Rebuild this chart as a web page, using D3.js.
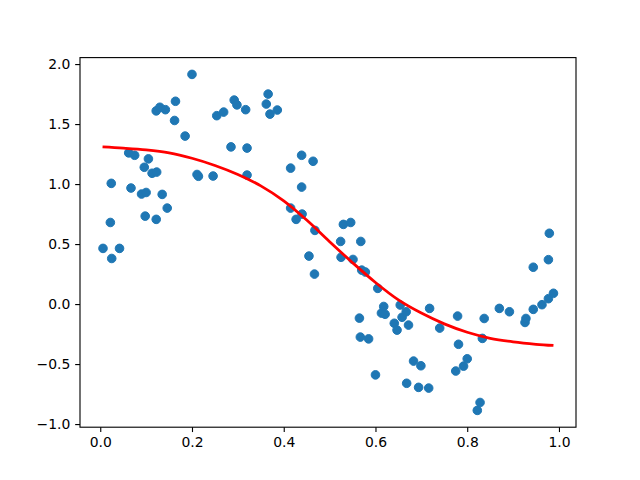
<!DOCTYPE html>
<html>
<head>
<meta charset="utf-8">
<script src="https://cdn.jsdelivr.net/npm/d3@7"></script>
<style>
  body { margin: 0; background: #fff; }
  svg { display: block; }
  .tick text { font-family: "DejaVu Sans", sans-serif; font-size: 13.9px; fill: #000; }
</style>
</head>
<body>
<div id="chart"></div>
<script>
// figure size and matplotlib-like axes box
const w = 640;
const h = 480;
const axLeft = 80, axRight = 576, axTop = 57.6, axBottom = 427.2;

// scatter points
const xs = [0.006, 0.022, 0.024, 0.025, 0.042, 0.062, 0.067, 0.075, 0.09, 0.096,
            0.098, 0.10, 0.105, 0.113, 0.122, 0.123, 0.122, 0.130, 0.135, 0.142,
            0.146, 0.162, 0.164, 0.185, 0.20, 0.211, 0.214, 0.246, 0.254, 0.269,
            0.285, 0.292, 0.298, 0.317, 0.32, 0.32, 0.362, 0.366, 0.37, 0.386,
            0.415, 0.415, 0.427, 0.439, 0.439, 0.44, 0.455, 0.464, 0.468, 0.467,
            0.524, 0.525, 0.53, 0.546, 0.551, 0.568, 0.570, 0.578, 0.565, 0.567,
            0.585, 0.605, 0.60, 0.613, 0.618, 0.621, 0.641, 0.647, 0.654, 0.658,
            0.667, 0.668, 0.672, 0.683, 0.694, 0.699, 0.716, 0.718, 0.74, 0.775,
            0.779, 0.781, 0.792, 0.80, 0.822, 0.828, 0.833, 0.837, 0.87, 0.892,
            0.926, 0.928, 0.944, 0.944, 0.963, 0.977, 0.977, 0.979, 0.988];
const ys = [0.464, 0.68, 1.006, 0.38, 0.464, 1.26, 0.967, 1.24, 0.917, 1.14,
            0.733, 0.93, 1.21, 1.09, 0.706, 1.10, 1.61, 1.64, 0.914, 1.62,
            0.80, 1.53, 1.69, 1.40, 1.914, 1.08, 1.065, 1.067, 1.57, 1.60,
            1.31, 1.70, 1.66, 1.62, 1.30, 1.075, 1.667, 1.75, 1.583, 1.617,
            1.133, 0.80, 0.706, 0.975, 1.24, 0.75, 0.40, 1.19, 0.614, 0.25,
            0.522, 0.39, 0.664, 0.68, 0.372, 0.522, 0.283, 0.267, -0.117, -0.275,
            -0.29, 0.131, -0.59, -0.075, -0.02, -0.085, -0.16, -0.217, -0.008, -0.11,
            -0.064, -0.66, -0.175, -0.475, -0.694, -0.514, -0.70, -0.036, -0.2, -0.558,
            -0.1, -0.335, -0.517, -0.456, -0.886, -0.82, -0.286, -0.12, -0.036, -0.064,
            -0.153, -0.12, -0.044, 0.307, -0.005, 0.045, 0.37, 0.59, 0.09];

// fitted red curve
const fitX = [0.005, 0.05, 0.1, 0.15, 0.2, 0.25, 0.3, 0.35, 0.4, 0.45, 0.5,
              0.55, 0.6, 0.65, 0.7, 0.75, 0.8, 0.85, 0.9, 0.95, 0.988];
const fitY = [1.31, 1.30, 1.285, 1.26, 1.215, 1.155, 1.08, 0.985, 0.86, 0.70, 0.52,
              0.345, 0.18, 0.035, -0.075, -0.165, -0.235, -0.285, -0.315, -0.335, -0.345];

const xTicks = [0.0, 0.2, 0.4, 0.6, 0.8, 1.0];
const yTicks = [-1.0, -0.5, 0.0, 0.5, 1.0, 1.5, 2.0];

const points = xs.map((x, i) => ({x: x, y: ys[i]}));
const fit = fitX.map((x, i) => ({x: x, y: fitY[i]}));

// 5% margins like matplotlib autoscale
const allX = xs.concat(fitX), allY = ys.concat(fitY);
const xMin = d3.min(allX), xMax = d3.max(allX);
const yMin = d3.min(allY), yMax = d3.max(allY);
const xPad = (xMax - xMin) * 0.05, yPad = (yMax - yMin) * 0.05;

const xScale = d3.scaleLinear().domain([xMin - xPad, xMax + xPad]).range([axLeft, axRight]);
const yScale = d3.scaleLinear().domain([yMin - yPad, yMax + yPad]).range([axBottom, axTop]);

const fmt = d => d3.format(".1f")(d).replace("-", "\u2212");

const svg = d3.select("#chart").append("svg")
  .attr("width", w)
  .attr("height", h);

svg.append("rect").attr("width", w).attr("height", h).attr("fill", "#fff");

svg.append("clipPath").attr("id", "clip")
  .append("rect")
  .attr("x", axLeft).attr("y", axTop)
  .attr("width", axRight - axLeft).attr("height", axBottom - axTop);

const plot = svg.append("g").attr("clip-path", "url(#clip)");

plot.selectAll("circle")
  .data(points)
  .enter()
  .append("circle")
  .attr("cx", d => xScale(d.x))
  .attr("cy", d => yScale(d.y))
  .attr("r", 4.3)
  .attr("fill", "#1f77b4")
  .attr("stroke", "#1f77b4")
  .attr("stroke-width", 1);

const line = d3.line()
  .x(d => xScale(d.x))
  .y(d => yScale(d.y))
  .curve(d3.curveCatmullRom);

plot.append("path")
  .datum(fit)
  .attr("d", line)
  .attr("fill", "none")
  .attr("stroke", "red")
  .attr("stroke-width", 2.78);

// axes
const xAxis = d3.axisBottom(xScale).tickValues(xTicks).tickFormat(fmt)
  .tickSizeInner(4.86).tickSizeOuter(0).tickPadding(4.86);
const yAxis = d3.axisLeft(yScale).tickValues(yTicks).tickFormat(fmt)
  .tickSizeInner(4.86).tickSizeOuter(0).tickPadding(4.86);

const gx = svg.append("g")
  .attr("transform", "translate(0," + axBottom + ")")
  .call(xAxis);
const gy = svg.append("g")
  .attr("transform", "translate(" + axLeft + ",0)")
  .call(yAxis);

[gx, gy].forEach(g => {
  g.select(".domain").remove();
  g.selectAll(".tick line").attr("stroke", "#000").attr("stroke-width", 1.11);
});

// spines
svg.append("rect")
  .attr("x", axLeft).attr("y", axTop)
  .attr("width", axRight - axLeft).attr("height", axBottom - axTop)
  .attr("fill", "none")
  .attr("stroke", "#000")
  .attr("stroke-width", 1.11);
</script>
</body>
</html>
